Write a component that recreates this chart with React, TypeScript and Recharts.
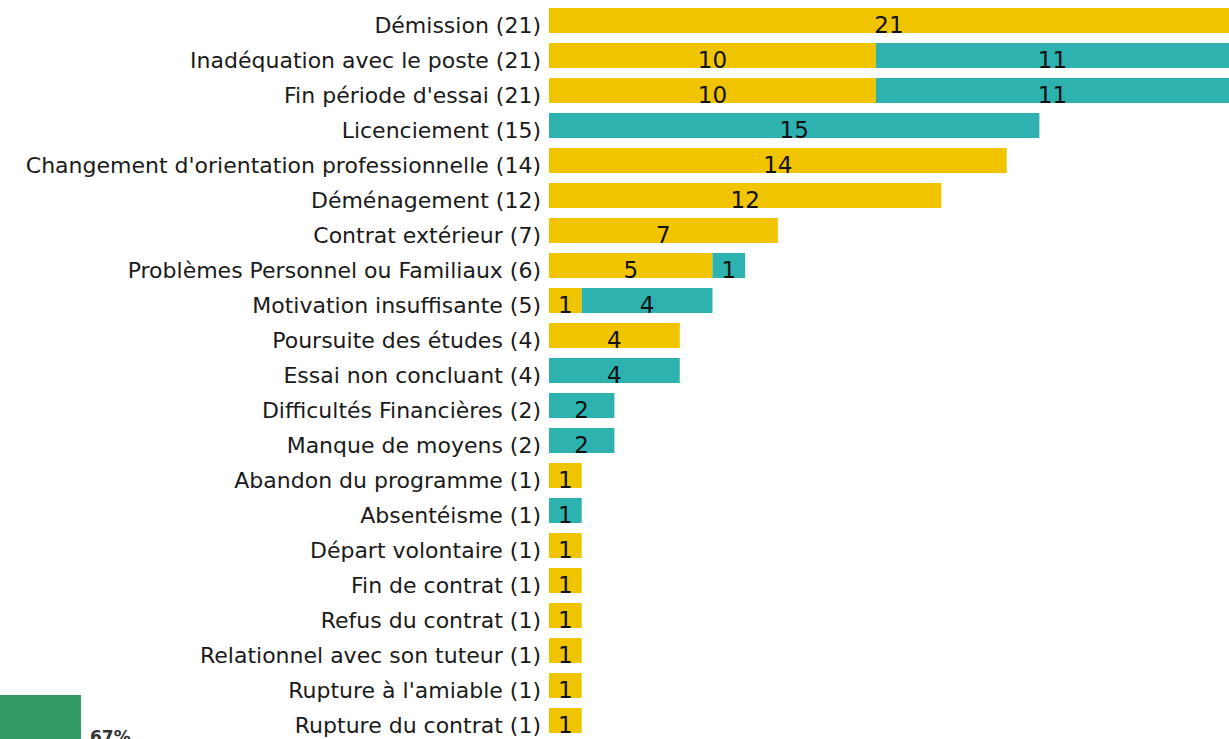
import React from "react";
import { BarChart, Bar, XAxis, YAxis, LabelList } from "recharts";

const categories = [
  "Démission",
  "Inadéquation avec le poste",
  "Fin période d'essai",
  "Licenciement",
  "Changement d'orientation professionnelle",
  "Déménagement",
  "Contrat extérieur",
  "Problèmes Personnel ou Familiaux",
  "Motivation insuffisante",
  "Poursuite des études",
  "Essai non concluant",
  "Difficultés Financières",
  "Manque de moyens",
  "Abandon du programme",
  "Absentéisme",
  "Départ volontaire",
  "Fin de contrat",
  "Refus du contrat",
  "Relationnel avec son tuteur",
  "Rupture à l'amiable",
  "Rupture du contrat",
];
const yellowValues = [21, 10, 10, 0, 14, 12, 7, 5, 1, 4, 0, 0, 0, 1, 0, 1, 1, 1, 1, 1, 1];
const tealValues = [0, 11, 11, 15, 0, 0, 0, 1, 4, 0, 4, 2, 2, 0, 1, 0, 0, 0, 0, 0, 0];

const sideValue = [67];

const YELLOW = "#F1C400";
const TEAL = "#2DB2AF";
const GREEN = "#349A66";
const FONT = "DejaVu Sans, Verdana, sans-serif";

const data = categories.map((name, i) => ({
  label: `${name} (${yellowValues[i] + tealValues[i]})`,
  yellow: yellowValues[i] || null,
  teal: tealValues[i] || null,
}));

const CHART_W = 1229;
const PLOT_RIGHT = 1229;

function ValueLabel(props: any) {
  const { x, y, width, height, value } = props;
  if (!value) return null;
  const right = Math.min(x + width, PLOT_RIGHT);
  const cx = (x + right) / 2;
  return (
    <text
      x={cx}
      y={y + height}
      textAnchor="middle"
      fontFamily={FONT}
      fontSize={23}
      fill="#111"
    >
      {value}
    </text>
  );
}

function CategoryTick(props: any) {
  const { x, y, payload } = props;
  return (
    <text
      x={x}
      y={y + 12}
      textAnchor="end"
      fontFamily={FONT}
      fontSize={22}
      fill="#1a1a1a"
    >
      {payload.value}
    </text>
  );
}

export default function App() {
  return (
    <div
      style={{
        position: "fixed",
        left: 0,
        top: 0,
        width: 1229,
        height: 739,
        overflow: "hidden",
        background: "#fff",
      }}
    >
      <BarChart
        width={CHART_W}
        height={739}
        data={data}
        layout="vertical"
        margin={{ top: 3, right: 0, left: 0, bottom: 1 }}
        barSize={25}
      >
        <XAxis type="number" hide domain={[0, 20.8]} allowDataOverflow />
        <YAxis
          type="category"
          dataKey="label"
          width={549}
          axisLine={false}
          tickLine={false}
          tickSize={0}
          tickMargin={8}
          interval={0}
          tick={<CategoryTick />}
        />
        <Bar dataKey="yellow" stackId="a" fill={YELLOW} isAnimationActive={false}>
          <LabelList dataKey="yellow" content={<ValueLabel />} />
        </Bar>
        <Bar dataKey="teal" stackId="a" fill={TEAL} isAnimationActive={false}>
          <LabelList dataKey="teal" content={<ValueLabel />} />
        </Bar>
      </BarChart>
      <div style={{ position: "absolute", left: 0, top: 695 }}>
        <BarChart
          width={140}
          height={300}
          data={sideValue.map((v) => ({ v }))}
          margin={{ top: 0, right: 59, left: 0, bottom: 0 }}
          barCategoryGap={0}
        >
          <XAxis hide />
          <YAxis hide domain={[0, 67]} />
          <Bar dataKey="v" fill={GREEN} isAnimationActive={false}>
            <LabelList
              dataKey="v"
              content={(p: any) => (
                <text
                  x={p.x + p.width + 9}
                  y={p.y + 48}
                  fontFamily={FONT}
                  fontSize={17}
                  fontWeight="bold"
                  fill="#333"
                >
                  {`${p.value}%`}
                </text>
              )}
            />
          </Bar>
        </BarChart>
      </div>
    </div>
  );
}
